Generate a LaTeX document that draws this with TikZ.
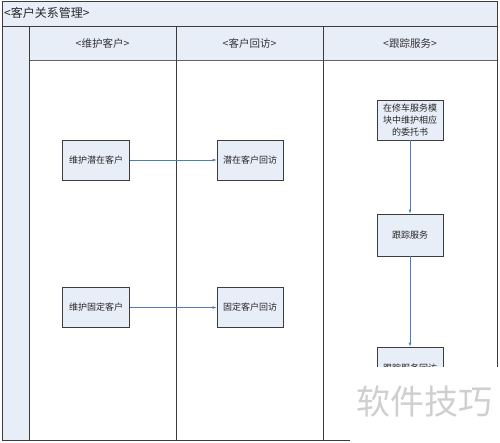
\documentclass[tikz,border=0pt]{standalone}
\usepackage{fontspec}
\setmainfont{Noto Sans CJK SC}
\usetikzlibrary{arrows.meta}
\definecolor{lanefill}{HTML}{E8EEF8}
\definecolor{linegray}{HTML}{3C3C3C}
\definecolor{arrowblue}{HTML}{4A7EBB}
\definecolor{wmgray}{HTML}{CFCFCF}
\begin{document}
\begin{tikzpicture}[x=1pt,y=-1pt,
  stepbox/.style={draw=linegray, line width=0.9pt, fill=lanefill, minimum width=67pt, minimum height=40pt, inner sep=1pt, font=\fontsize{9}{12}\selectfont, text=black!85, align=center},
  flow/.style={draw=arrowblue, line width=0.6pt, -{Latex[length=4pt,width=3pt]}},
  frame/.style={draw=linegray, line width=1pt},
  thin frame/.style={draw=linegray!80, line width=0.8pt},
  hdr/.style={font=\fontsize{10.5}{12}\selectfont, text=black!80}]
\useasboundingbox (0,0) rectangle (500,442);
% fills
\fill[lanefill] (2,1) rectangle (497,60);
\fill[lanefill] (2,26) rectangle (29,440);
% frame lines
\draw[frame] (2,1) rectangle (497,440);
\draw[frame] (2,26) -- (497,26);
\draw[thin frame] (29,60) -- (497,60);
\draw[frame] (29,26) -- (29,440);
\draw[frame] (176,26) -- (176,440);
\draw[frame] (323,26) -- (323,440);
% title and headers
\node[anchor=west, font=\fontsize{12}{13}\selectfont, text=black!85, inner sep=0pt] (title) at (4,13) {<客户关系管理>};
\node[hdr] (h1) at (102.5,43) {<维护客户>};
\node[hdr] (h2) at (249.5,43) {<客户回访>};
\node[hdr] (h3) at (410,43) {<跟踪服务>};
% boxes
\node[stepbox] (b1) at (96,160) {维护潜在客户};
\node[stepbox, minimum width=66pt] (b2) at (250,160) {潜在客户回访};
\node[stepbox] (b3) at (96,307.5) {维护固定客户};
\node[stepbox, minimum width=66pt] (b4) at (250,307.5) {固定客户回访};
\node[stepbox, minimum width=66pt] (b5) at (410,120) {在修车服务模\\块中维护相应\\的委托书};
\node[stepbox, minimum width=66pt, minimum height=42pt] (b6) at (410,235) {跟踪服务};
\node[stepbox, minimum width=66pt, minimum height=42pt] (b7) at (410,368) {跟踪服务回访};
% connectors
\draw[flow] (b1) -- (b2);
\draw[flow] (b3) -- (b4);
\draw[flow] (b5) -- (b6);
\draw[flow] (b6) -- (b7);
% cropped corner with watermark
\fill[white] (350,367) rectangle (500,442);
\node[font=\fontsize{34}{36}\selectfont, text=wmgray, inner sep=0pt] (wm) at (424,402) {软件技巧};
\end{tikzpicture}
\end{document}
